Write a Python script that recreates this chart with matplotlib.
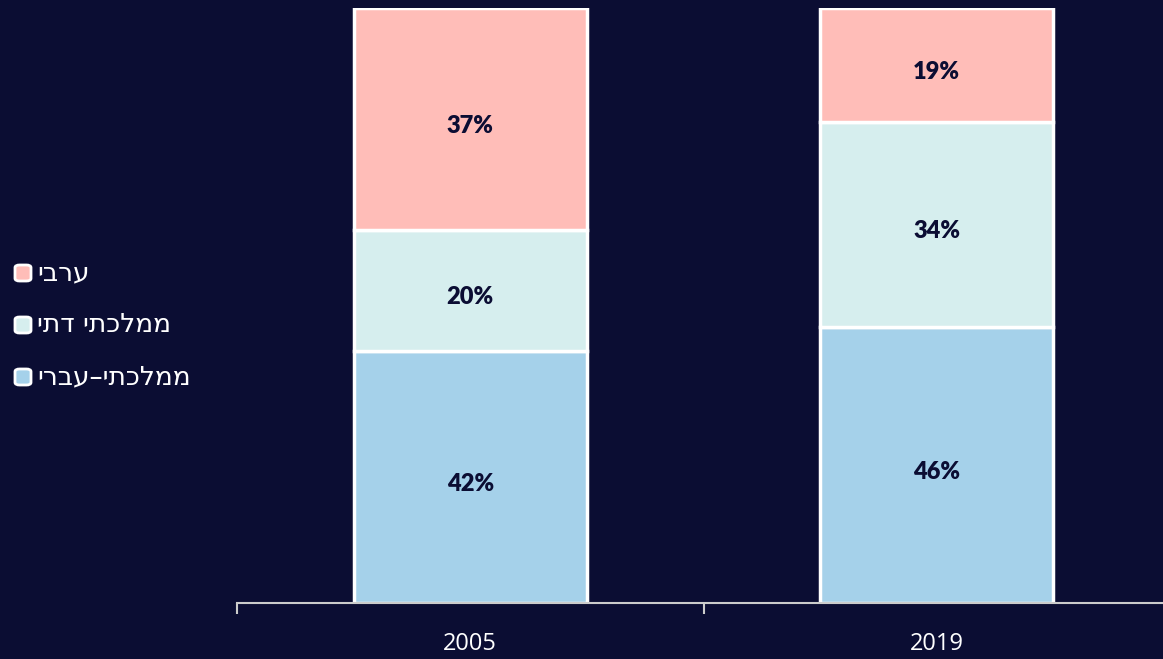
import matplotlib.pyplot as plt
from matplotlib.patches import FancyBboxPatch

# share of pupils by school stream
years = ['2005', '2019']
mamlachti = [42, 46]
mamlachti_dati = [20, 34]
aravi = [37, 19]

names = ['ממלכתי–עברי', 'ממלכתי דתי', 'ערבי']
colors = ['#a5d1ea', '#d6eeee', '#ffbdb8']
bg = '#0b0d33'

W, H = 1163, 659
fig = plt.figure(figsize=(W / 100, H / 100), dpi=100, facecolor=bg)
ax = fig.add_axes([237 / W, 1 - 603 / H, 933 / W, 595 / H])
ax.set_facecolor(bg)

x = list(range(len(years)))
bottom = [0, 0]
for vals, col in zip([mamlachti, mamlachti_dati, aravi], colors):
    ax.bar(x, vals, width=0.5, bottom=bottom, color=col,
           edgecolor='white', linewidth=2.5, zorder=2)
    for xi, v, b in zip(x, vals, bottom):
        ax.annotate(f'{v}%', (xi, b + v / 2), xytext=(0, -5),
                    textcoords='offset points', ha='center', va='center',
                    fontsize=17, fontweight='heavy', color=bg, family='Lato')
    bottom = [b + v for b, v in zip(bottom, vals)]

ax.set_xlim(-0.5, 1.5)
ax.set_ylim(0, 99)
ax.set_yticks([])
for s in ['top', 'right', 'left']:
    ax.spines[s].set_visible(False)
ax.spines['bottom'].set_color('#cccccc')
ax.spines['bottom'].set_linewidth(1.5)

ax.set_xticks(x)
ax.set_xticklabels(years, color='white', fontsize=17, family='Open Sans')
ax.tick_params(axis='x', which='major', length=0, pad=21)
ax.set_xticks([-0.5, 0.5, 1.5], minor=True)
ax.tick_params(axis='x', which='minor', length=8, width=1.5, color='#cccccc')

# legend drawn by hand; matplotlib lays glyphs left to right, so Hebrew is reversed
for i, (name, col) in enumerate(zip(names[::-1], colors[::-1])):
    yc = 273 + 52 * i
    box = FancyBboxPatch((15 / W, 1 - (yc + 8) / H), 16 / W, 16 / H,
                         boxstyle='round,pad=0,rounding_size=0.004',
                         transform=fig.transFigure, facecolor=col,
                         edgecolor='white', linewidth=2)
    fig.add_artist(box)
    fig.text(37 / W, 1 - yc / H, name[::-1], color='white', fontsize=19,
             ha='left', va='center', family='DejaVu Sans')

fig.savefig('out.png', dpi=100, facecolor=bg)
